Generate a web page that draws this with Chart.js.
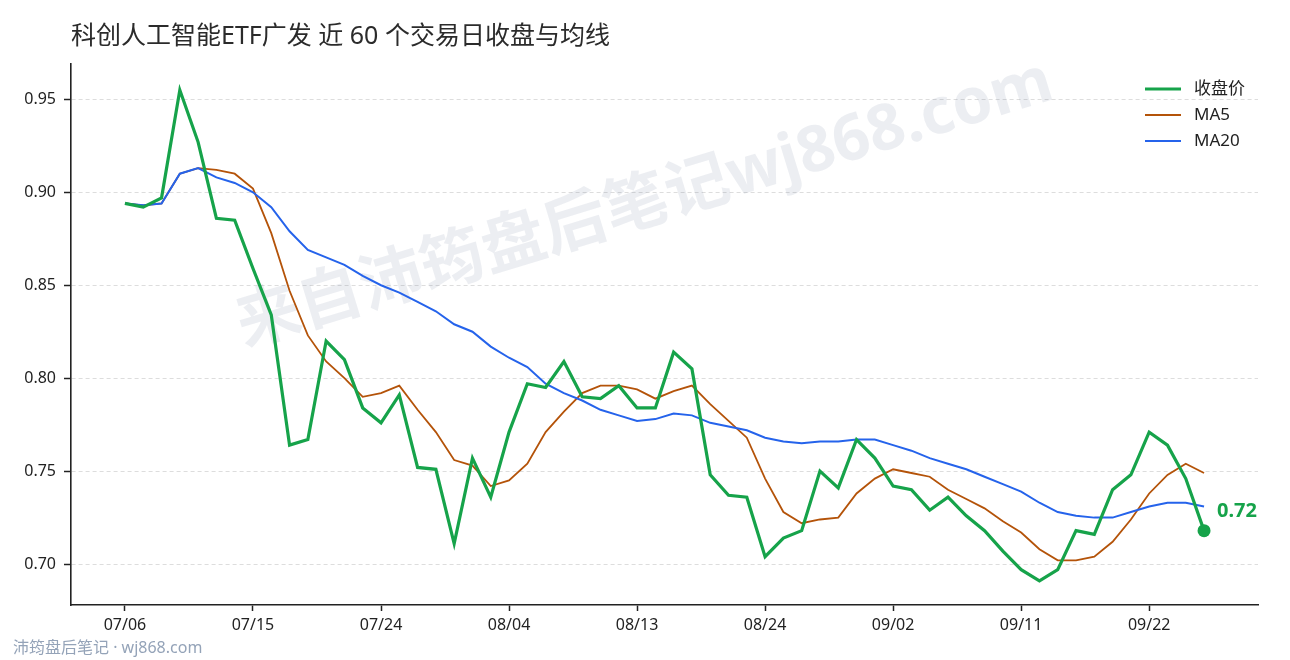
<!DOCTYPE html>
<html>
<head>
<meta charset="utf-8">
<script src="https://cdn.jsdelivr.net/npm/chart.js@4.4.1/dist/chart.umd.min.js"></script>
<style>
  html, body { margin: 0; padding: 0; background: #fff; }
  #wrap { width: 1290px; height: 660px; }
</style>
</head>
<body>
<div id="wrap"><canvas id="c" width="1290" height="660"></canvas></div>
<script>
// 交易日 (60 个)
const dates = [
  '07/06','07/07','07/08','07/09','07/10','07/13','07/14','07/15','07/16','07/17',
  '07/20','07/21','07/22','07/23','07/24','07/27','07/28','07/29','07/30','07/31',
  '08/03','08/04','08/05','08/06','08/07','08/10','08/11','08/12','08/13','08/14',
  '08/17','08/18','08/19','08/20','08/21','08/24','08/25','08/26','08/27','08/28',
  '08/31','09/01','09/02','09/03','09/04','09/07','09/08','09/09','09/10','09/11',
  '09/14','09/15','09/16','09/17','09/18','09/21','09/22','09/23','09/24','09/25'
];

// 收盘价
const closes = [
  0.894, 0.892, 0.897, 0.955, 0.927, 0.886, 0.885, 0.859, 0.834, 0.764,
  0.767, 0.820, 0.810, 0.784, 0.776, 0.791, 0.752, 0.751, 0.711, 0.757,
  0.736, 0.771, 0.797, 0.795, 0.809, 0.790, 0.789, 0.796, 0.784, 0.784,
  0.814, 0.805, 0.748, 0.737, 0.736, 0.704, 0.714, 0.718, 0.750, 0.741,
  0.767, 0.757, 0.742, 0.740, 0.729, 0.736, 0.726, 0.718, 0.707, 0.697,
  0.691, 0.697, 0.718, 0.716, 0.740, 0.748, 0.771, 0.764, 0.746, 0.718
];

// MA5
const ma5 = [
  0.894, 0.893, 0.894, 0.910, 0.913, 0.912, 0.910, 0.902, 0.878, 0.847,
  0.823, 0.809, 0.800, 0.790, 0.792, 0.796, 0.783, 0.771, 0.756, 0.753,
  0.742, 0.745, 0.754, 0.771, 0.782, 0.792, 0.796, 0.796, 0.794, 0.789,
  0.793, 0.796, 0.786, 0.777, 0.768, 0.746, 0.728, 0.722, 0.724, 0.725,
  0.738, 0.746, 0.751, 0.749, 0.747, 0.740, 0.735, 0.730, 0.723, 0.717,
  0.708, 0.702, 0.702, 0.704, 0.712, 0.724, 0.738, 0.748, 0.754, 0.749
];

// MA20
const ma20 = [
  0.894, 0.893, 0.894, 0.910, 0.913, 0.908, 0.905, 0.900, 0.892, 0.879,
  0.869, 0.865, 0.861, 0.855, 0.850, 0.846, 0.841, 0.836, 0.829, 0.825,
  0.817, 0.811, 0.806, 0.797, 0.792, 0.788, 0.783, 0.780, 0.777, 0.778,
  0.781, 0.780, 0.776, 0.774, 0.772, 0.768, 0.766, 0.765, 0.766, 0.766,
  0.767, 0.767, 0.764, 0.761, 0.757, 0.754, 0.751, 0.747, 0.743, 0.739,
  0.733, 0.728, 0.726, 0.725, 0.725, 0.728, 0.731, 0.733, 0.733, 0.731
];

const xTickLabels = ['07/06','07/15','07/24','08/04','08/13','08/24','09/02','09/11','09/22'];
const yTicks = [0.70, 0.75, 0.80, 0.85, 0.90, 0.95];

const seriesNames = ['收盘价', 'MA5', 'MA20'];
const GREEN = '#16a34a', ORANGE = '#b45309', BLUE = '#2563eb';
const FONT = '"Noto Sans", "Noto Sans CJK SC", sans-serif';

const toXY = arr => arr.map((v, i) => ({ x: i, y: v }));

// 水印、标题、图例、末值标签
const decor = {
  id: 'decor',
  beforeDatasetsDraw(chart) {
    const ctx = chart.ctx;
    ctx.save();
    ctx.translate(645, 205);
    ctx.rotate(-17 * Math.PI / 180);
    ctx.font = 'bold 64px ' + FONT;
    ctx.fillStyle = 'rgba(100,116,150,0.12)';
    ctx.textAlign = 'center';
    ctx.textBaseline = 'middle';
    ctx.fillText('来自沛筠盘后笔记wj868.com', 0, 0);
    ctx.restore();
  },
  afterDraw(chart) {
    const ctx = chart.ctx;
    const area = chart.chartArea;
    ctx.save();
    // title
    ctx.font = '25px ' + FONT;
    ctx.fillStyle = '#2b2b2b';
    ctx.textAlign = 'left';
    ctx.textBaseline = 'middle';
    ctx.fillText('科创人工智能ETF广发 近 60 个交易日收盘与均线', area.left, 37);

    // footer
    ctx.font = '16px ' + FONT;
    ctx.fillStyle = '#94a3b8';
    ctx.fillText('沛筠盘后笔记 · wj868.com', 13, 648);

    // legend
    const colors = [GREEN, ORANGE, BLUE];
    const widths = [3.2, 1.8, 2];
    ctx.font = '17px ' + FONT;
    seriesNames.forEach((name, i) => {
      const y = 89 + i * 26;
      ctx.strokeStyle = colors[i];
      ctx.lineWidth = widths[i];
      ctx.beginPath();
      ctx.moveTo(1145, y);
      ctx.lineTo(1181, y);
      ctx.stroke();
      ctx.fillStyle = '#222';
      ctx.fillText(name, 1194, y);
    });

    // last value label
    const meta = chart.getDatasetMeta(0);
    const last = meta.data[meta.data.length - 1];
    ctx.font = 'bold 20px ' + FONT;
    ctx.fillStyle = GREEN;
    ctx.fillText(closes[closes.length - 1].toFixed(2), last.x + 13, last.y - 19);
    ctx.restore();
  }
};

new Chart(document.getElementById('c'), {
  type: 'line',
  data: {
    datasets: [
      {
        label: seriesNames[0], data: toXY(closes), borderColor: GREEN, backgroundColor: GREEN,
        borderWidth: 3.2, tension: 0,
        pointRadius: c => c.dataIndex === closes.length - 1 ? 6.5 : 0,
        pointBorderWidth: 0, pointBackgroundColor: GREEN, pointHoverRadius: 0
      },
      {
        label: seriesNames[2], data: toXY(ma20), borderColor: BLUE, backgroundColor: BLUE,
        borderWidth: 2, tension: 0, pointRadius: 0, pointHoverRadius: 0
      },
      {
        label: seriesNames[1], data: toXY(ma5), borderColor: ORANGE, backgroundColor: ORANGE,
        borderWidth: 1.8, tension: 0, pointRadius: 0, pointHoverRadius: 0
      }
    ]
  },
  options: {
    responsive: false,
    animation: false,
    events: [],
    layout: { padding: { top: 64, right: 32, left: 0, bottom: 0 } },
    plugins: { legend: { display: false }, title: { display: false }, tooltip: { enabled: false } },
    scales: {
      x: {
        type: 'linear',
        min: -2.95, max: 61.95,
        afterBuildTicks: s => { s.ticks = xTickLabels.map(l => ({ value: dates.indexOf(l) })); },
        afterFit: s => { s.height = 55; },
        ticks: {
          autoSkip: false, maxRotation: 0, padding: 5,
          color: '#222', font: { family: FONT, size: 16 },
          callback: v => dates[v]
        },
        grid: { drawOnChartArea: false, drawTicks: true, tickLength: 6, tickColor: '#222', tickWidth: 1.5, tickBorderDash: [] },
        border: { display: true, color: '#222', width: 1.6 }
      },
      y: {
        min: 0.678, max: 0.969,
        afterBuildTicks: s => { s.ticks = yTicks.map(v => ({ value: v })); },
        afterFit: s => { s.width = 71; },
        ticks: {
          padding: 8, color: '#222', font: { family: FONT, size: 16 },
          callback: v => v.toFixed(2)
        },
        grid: { color: '#dddddd', lineWidth: 1, drawTicks: true, tickLength: 7, tickColor: '#222', tickWidth: 1.5, tickBorderDash: [] },
        border: { display: true, color: '#222', width: 1.6, dash: [4, 3] }
      }
    }
  },
  plugins: [decor]
});
</script>
</body>
</html>
